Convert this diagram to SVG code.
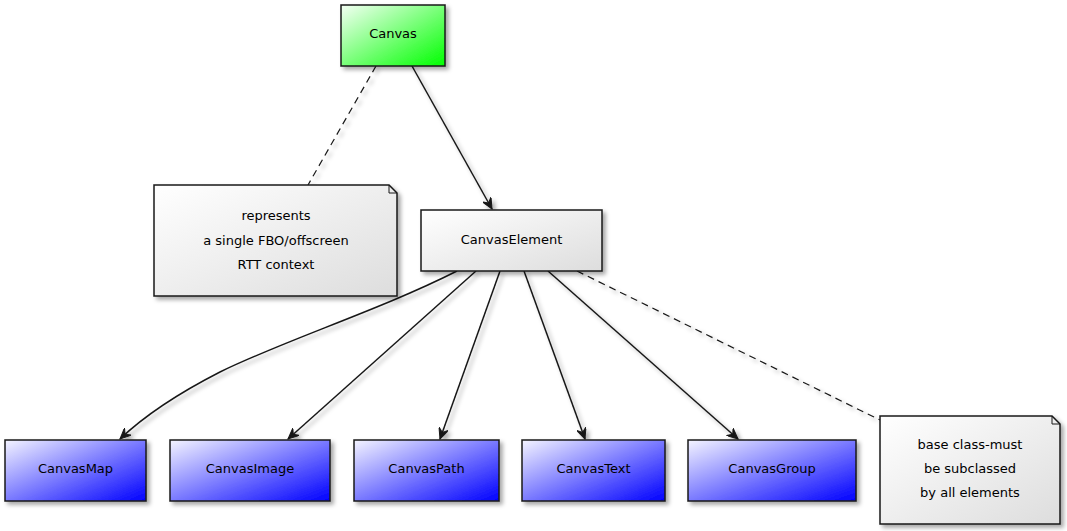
<svg xmlns="http://www.w3.org/2000/svg" width="1067" height="531" viewBox="0 0 1067 531">
<defs>
<linearGradient id="gGreen" x1="0" y1="0" x2="1" y2="1"><stop offset="0" stop-color="#F4FFF4"/><stop offset="1" stop-color="#00FF00"/></linearGradient>
<linearGradient id="gBlue" x1="0" y1="0" x2="1" y2="1"><stop offset="0" stop-color="#F4F4FF"/><stop offset="1" stop-color="#0000FF"/></linearGradient>
<linearGradient id="gGray" x1="0" y1="0" x2="1" y2="1"><stop offset="0" stop-color="#FFFFFF"/><stop offset="1" stop-color="#DDDDDD"/></linearGradient>
<filter id="sh" x="-20%" y="-20%" width="140%" height="140%"><feDropShadow dx="3" dy="3" stdDeviation="2" flood-color="#000" flood-opacity="0.35"/></filter>
<marker id="arr" viewBox="0 0 12 10" refX="11" refY="5" markerWidth="12" markerHeight="10" markerUnits="userSpaceOnUse" orient="auto"><path d="M0,0 L11,5 L0,10 L4,5 Z" fill="#181818" stroke="#181818" stroke-width="1"/></marker>
</defs>
<style>
.box{stroke:#181818;stroke-width:1.5}
.note{fill:url(#gGray);stroke:#181818;stroke-width:1.5}
.t{font-family:"DejaVu Sans",Verdana,sans-serif;font-size:13px;fill:#000;text-anchor:middle}
.e{fill:none;stroke:#181818;stroke-width:1.5}
.d{fill:none;stroke:#181818;stroke-width:1.2;stroke-dasharray:7,5}
</style>
<g id="connectors" filter="url(#sh)">
<line class="d" x1="376" y1="66" x2="308" y2="185"/>
<line class="e" x1="412" y1="66" x2="492" y2="209" marker-end="url(#arr)"/>
<path class="e" d="M457,271 C380,310 285,340 220,372 C175,395 140,420 120,439" marker-end="url(#arr)"/>
<line class="e" x1="476" y1="271" x2="288" y2="439" marker-end="url(#arr)"/>
<line class="e" x1="500" y1="271" x2="440" y2="439" marker-end="url(#arr)"/>
<line class="e" x1="524" y1="271" x2="585" y2="439" marker-end="url(#arr)"/>
<line class="e" x1="548" y1="271" x2="738" y2="439" marker-end="url(#arr)"/>
<line class="d" x1="577" y1="271" x2="880" y2="420"/>
</g>
<g id="Canvas">
<rect class="box" x="341" y="5" width="104" height="61" fill="url(#gGreen)" filter="url(#sh)"/>
<text class="t" x="393" y="38">Canvas</text>
</g>
<g id="note1">
<path class="note" d="M154,185 L389,185 L397,193 L397,296 L154,296 Z" filter="url(#sh)"/>
<path d="M389,185 L389,193 L397,193" fill="none" stroke="#181818" stroke-width="1"/>
<text class="t" x="276" y="220">represents</text>
<text class="t" x="276" y="245">a single FBO/offscreen</text>
<text class="t" x="276" y="269">RTT context</text>
</g>
<g id="CanvasElement">
<rect class="box" x="421" y="210" width="181" height="61" fill="url(#gGray)" filter="url(#sh)"/>
<text class="t" x="511.5" y="244">CanvasElement</text>
</g>
<g id="CanvasMap">
<rect class="box" x="5" y="440" width="141" height="61" fill="url(#gBlue)" filter="url(#sh)"/>
<text class="t" x="75.5" y="473">CanvasMap</text>
</g>
<g id="CanvasImage">
<rect class="box" x="170" y="440" width="160" height="61" fill="url(#gBlue)" filter="url(#sh)"/>
<text class="t" x="250" y="473">CanvasImage</text>
</g>
<g id="CanvasPath">
<rect class="box" x="354" y="440" width="145" height="61" fill="url(#gBlue)" filter="url(#sh)"/>
<text class="t" x="426.5" y="473">CanvasPath</text>
</g>
<g id="CanvasText">
<rect class="box" x="522" y="440" width="143" height="61" fill="url(#gBlue)" filter="url(#sh)"/>
<text class="t" x="593.5" y="473">CanvasText</text>
</g>
<g id="CanvasGroup">
<rect class="box" x="688" y="440" width="168" height="61" fill="url(#gBlue)" filter="url(#sh)"/>
<text class="t" x="772" y="473">CanvasGroup</text>
</g>
<g id="note2">
<path class="note" d="M880,416 L1052,416 L1060,424 L1060,524 L880,524 Z" filter="url(#sh)"/>
<path d="M1052,416 L1052,424 L1060,424" fill="none" stroke="#181818" stroke-width="1"/>
<text class="t" x="970" y="449">base class-must</text>
<text class="t" x="970" y="473">be subclassed</text>
<text class="t" x="970" y="497">by all elements</text>
</g>
</svg>
